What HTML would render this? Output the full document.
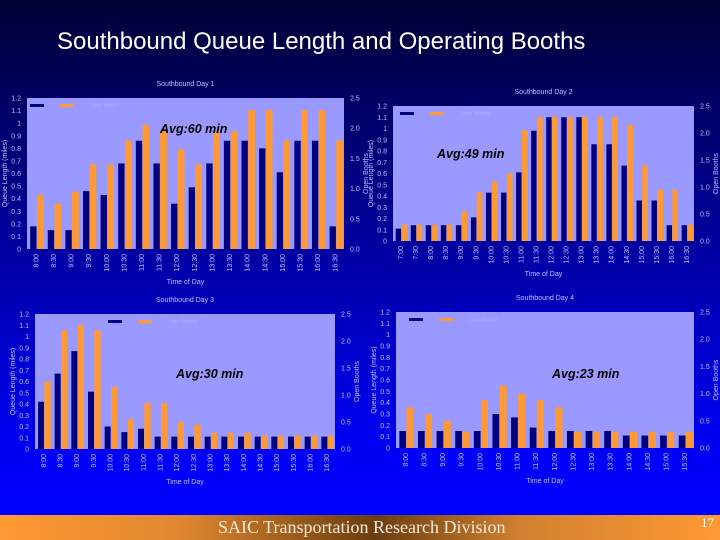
<!DOCTYPE html>
<html><head><meta charset="utf-8"><style>
html,body{margin:0;padding:0}
body{width:720px;height:540px;overflow:hidden;position:relative;font-family:"Liberation Sans",sans-serif;
background:linear-gradient(to bottom,#000033 0%,#000066 20%,#0000aa 50%,#0000ee 80%,#0000ff 95%)}
#title{position:absolute;left:57px;top:28px;color:#fff;font-size:24px;white-space:nowrap}
#footer{position:absolute;left:0;top:515px;width:720px;height:25px;
background:linear-gradient(to right,#ff9933 0%,#e08830 25%,#6a3d10 52%,#d08030 72%,#ff9933 100%)}
#footer span{position:absolute;left:218px;top:2px;font-family:"Liberation Serif",serif;font-size:18px;color:#f4e8d8}
#footer i{position:absolute;right:6px;top:0px;font-style:normal;font-family:"Liberation Serif",serif;font-size:13px;color:#fff}
svg{position:absolute;left:0;top:0}
</style></head><body>
<div id="title">Southbound Queue Length and Operating Booths</div>
<svg id="s" width="720" height="540"></svg>
<div id="footer"><span>SAIC Transportation Research Division</span><i>17</i></div>
<script>
const cats1=["8:00","8:30","9:00","9:30","10:00","10:30","11:00","11:30","12:00","12:30","13:00","13:30","14:00","14:30","15:00","15:30","16:00","16:30"];
const queue1=[.18,.15,.15,.46,.43,.68,.86,.68,.36,.49,.68,.86,.86,.80,.61,.86,.86,.18];
const booths1=[.9,.75,.95,1.4,1.4,1.8,2.05,1.95,1.65,1.4,1.95,1.95,2.3,2.3,1.8,2.3,2.3,1.8];
const cats2=["7:00","7:30","8:00","8:30","9:00","9:30","10:00","10:30","11:00","11:30","12:00","12:30","13:00","13:30","14:00","14:30","15:00","15:30","16:00","16:30"];
const queue2=[.11,.14,.14,.14,.14,.21,.43,.43,.61,.98,1.1,1.1,1.1,.86,.86,.67,.36,.36,.14,.14];
const booths2=[.3,.3,.3,.3,.55,.9,1.1,1.25,2.05,2.3,2.3,2.3,2.3,2.3,2.3,2.15,1.4,.95,.95,.3];
const cats3=cats1.slice();
const queue3=[.42,.67,.87,.51,.2,.15,.18,.11,.11,.11,.11,.11,.11,.11,.11,.11,.11,.11];
const booths3=[1.25,2.2,2.3,2.2,1.15,.55,.85,.85,.5,.45,.3,.3,.3,.25,.25,.25,.25,.25];
const cats4=["8:00","8:30","9:00","9:30","10:00","10:30","11:00","11:30","12:00","12:30","13:00","13:30","14:00","14:30","15:00","15:30"];
const queue4=[.15,.15,.15,.15,.15,.3,.27,.18,.15,.15,.15,.15,.11,.11,.11,.11];
const booths4=[.75,.62,.5,.3,.88,1.15,1.0,.88,.75,.3,.3,.3,.3,.3,.3,.3];
const leftTicks=[0,.1,.2,.3,.4,.5,.6,.7,.8,.9,1,1.1,1.2];
const rightTicks=[0,.5,1,1.5,2,2.5];

const NS="http://www.w3.org/2000/svg",S=document.getElementById('s');
function el(t,a,p,txt){const e=document.createElementNS(NS,t);for(const k in a)e.setAttribute(k,a[k]);if(txt!=null)e.textContent=txt;(p||S).appendChild(e);return e;}
const TC="#b8c0ff";
function chart(c){
  const g=el('g',{});
  
  
  const {x0,x1,y0,y1}=c;
  const yL=v=>y1-(v/1.2)*(y1-y0), yR=v=>y1-(v/2.5)*(y1-y0);
  const n=c.cats.length,w=(x1-x0)/n;
  const bg=el('rect',{x:x0,y:y0,width:x1-x0,height:y1-y0,fill:"#9999ff"},g);
  
  
  const t=el('text',{x:(x0+x1)/2,y:y0-12,fill:TC,'font-size':7,'text-anchor':'middle'},g,c.title);
  
  
  leftTicks.forEach(v=>{const e=el('text',{x:x0-6,y:yL(v)+2.5,fill:TC,'font-size':7,'text-anchor':'end'},g,String(v));
    
    });
  rightTicks.forEach(v=>{const e=el('text',{x:x1+6,y:yR(v)+2.5,fill:TC,'font-size':7},g,v.toFixed(1));
    
    });
  c.cats.forEach((cat,i)=>{
    const bx=x0+i*w;
    const q=el('rect',{x:bx+w*0.18,y:yL(c.q[i]),width:w*0.36,height:y1-yL(c.q[i]),fill:"#000080"},g);
    
    
    const b=el('rect',{x:bx+w*0.56,y:yR(c.b[i]),width:w*0.38,height:y1-yR(c.b[i]),fill:"#ff9933"},g);
    
    
    const cx=bx+w/2,cy=y1+5;
    const l=el('text',{x:cx,y:cy,fill:TC,'font-size':7,'text-anchor':'end',transform:`rotate(-90 ${cx} ${cy}) translate(0 2.5)`},g,cat);
    
    
  });
  const xt=el('text',{x:(x0+x1)/2,y:y1+35,fill:TC,'font-size':7,'text-anchor':'middle'},g,"Time of Day");
  
  
  const ly=(y0+y1)/2,lx=x0-20;
  const yt=el('text',{x:lx,y:ly,fill:TC,'font-size':7,'text-anchor':'middle',transform:`rotate(-90 ${lx} ${ly})`},g,"Queue Length (miles)");
  
  
  const rx=x1+24;
  const rt=el('text',{x:rx,y:ly,fill:TC,'font-size':7,'text-anchor':'middle',transform:`rotate(-90 ${rx} ${ly})`},g,"Open Booths");
  
  
  const lg=el('g',{},g);
  
  
  el('rect',{x:c.lgx,y:y0+6,width:14,height:3,fill:"#000080"},lg);
  el('rect',{x:c.lgx+30,y:y0+6,width:14,height:3,fill:"#ff9933"},lg);
  el('text',{x:c.lgx+60,y:y0+9,fill:"#aab0ff",'font-size':5},lg,"Open Booths");
  const a=el('text',{x:c.ax,y:c.ay,fill:"#000","font-size":12.5,"font-weight":"bold","font-style":"italic"},g,c.avg);
  
  
}
chart({name:'chart-day1',title:'Southbound Day 1',x0:27,x1:344,y0:98,y1:249,cats:cats1,q:queue1,b:booths1,avg:'Avg:60 min',ax:160,ay:133,lgx:30});
chart({name:'chart-day2',title:'Southbound Day 2',x0:393,x1:694,y0:106,y1:241,cats:cats2,q:queue2,b:booths2,avg:'Avg:49 min',ax:437,ay:158,lgx:400});
chart({name:'chart-day3',title:'Southbound Day 3',x0:35,x1:335,y0:314,y1:449,cats:cats3,q:queue3,b:booths3,avg:'Avg:30 min',ax:176,ay:378,lgx:108});
chart({name:'chart-day4',title:'Southbound Day 4',x0:396,x1:694,y0:312,y1:448,cats:cats4,q:queue4,b:booths4,avg:'Avg:23 min',ax:552,ay:378,lgx:409});
</script>
</body></html>
